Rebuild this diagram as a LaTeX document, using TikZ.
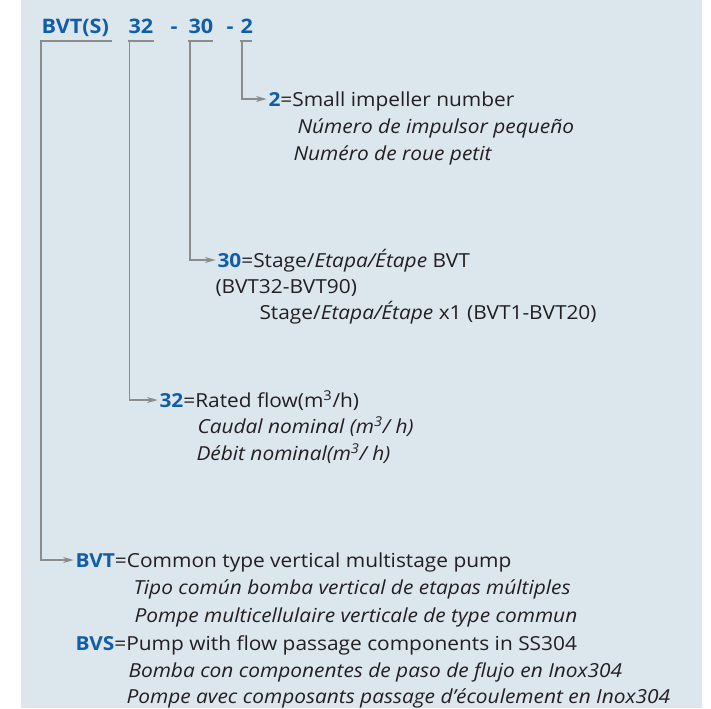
\documentclass[tikz,border=0pt]{standalone}
\usepackage{fontspec}
\setmainfont[FakeStretch=1.08]{Open Sans}
\usetikzlibrary{arrows.meta}

\definecolor{panelbg}{RGB}{220,230,237}
\definecolor{codeblue}{RGB}{16,94,170}
\definecolor{inkgray}{RGB}{35,31,32}
\definecolor{linkgray}{RGB}{140,140,140}

\newcommand{\cd}[1]{\textcolor{codeblue}{\textbf{#1}}}

\tikzset{every picture/.style={line width=0.75pt}}
\tikzset{
  txt/.style={anchor=base west,inner sep=0pt,text=inkgray,font=\fontsize{14.5}{16}\selectfont},
  ttl/.style={anchor=base west,inner sep=0pt,text=codeblue,font=\fontsize{15}{17}\selectfont\bfseries},
  link/.style={draw=linkgray,line width=1.1pt},
  pointer/.style={link,-{Stealth[length=8pt,width=4.5pt]},shorten >=1pt},
}

\begin{document}
\begin{tikzpicture}[x=0.75pt,y=0.75pt,yscale=-1,xscale=1]
%Panel
\fill[panelbg] (21,0) rectangle (702,708);
\useasboundingbox (0,0) rectangle (711,708);

%Model code
\node[ttl] (ttlS) at (41,33) {BVT(S)};
\node[ttl] (ttl32) at (128,33) {32};
\node[ttl] (dashA) at (170,33) {-};
\node[ttl] (ttl30) at (188,33) {30};
\node[ttl] (dashB) at (226,33) {-};
\node[ttl] (ttl2) at (240,33) {2};

%Impeller
\node[txt] (d2a) at (268,106) {\cd{2}=Small impeller number};
\node[txt] (d2b) at (297,133) {\itshape Número de impulsor pequeño};
\node[txt] (d2c) at (293,160) {\itshape Numéro de roue petit};

%Stages
\node[txt] (d30a) at (217,267) {\cd{30}=Stage/\textit{Etapa/Étape} BVT};
\node[txt] (d30b) at (215,293) {(BVT32-BVT90)};
\node[txt] (d30c) at (259,319) {Stage/\textit{Etapa/Étape} x1 (BVT1-BVT20)};

%Flow
\node[txt] (d32a) at (159,407) {\cd{32}=Rated flow(m\textsuperscript{3}/h)};
\node[txt] (d32b) at (197,433) {\itshape Caudal nominal (m\textsuperscript{3}/ h)};
\node[txt] (d32c) at (196,460) {\itshape Débit nominal(m\textsuperscript{3}/ h)};

%Type
\node[txt] (dBVTa) at (75,567) {\cd{BVT}=Common type vertical multistage pump};
\node[txt] (dBVTb) at (133,594) {\itshape Tipo común bomba vertical de etapas múltiples};
\node[txt] (dBVTc) at (134,622) {\itshape Pompe multicellulaire verticale de type commun};
\node[txt] (dBVSa) at (75,650) {\cd{BVS}=Pump with flow passage components in SS304};
\node[txt] (dBVSb) at (128,677) {\itshape Bomba con componentes de paso de flujo en Inox304};
\node[txt] (dBVSc) at (126,703) {\itshape Pompe avec composants passage d'écoulement en Inox304};

%Brackets
\coordinate (b2) at (252,41);
\coordinate (b30) at (213,41);
\coordinate (b32) at (154,41);
\coordinate (bS) at (112,41);
\draw[pointer] (b2) -- (b2 -| ttl2.west) -- ++(2,0) |- ([yshift=-5.25pt]d2a.base west);
\draw[pointer] (b30) -- (b30 -| ttl30.west) -- ++(2,0) |- ([yshift=-5.25pt]d30a.base west);
\draw[pointer] (b32) -- (b32 -| ttl32.west) -- ++(1.5,0) |- ([yshift=-5.25pt]d32a.base west);
\draw[pointer] (bS) -- (bS -| ttlS.west) |- ([yshift=-5.25pt]dBVTa.base west);
\end{tikzpicture}
\end{document}
